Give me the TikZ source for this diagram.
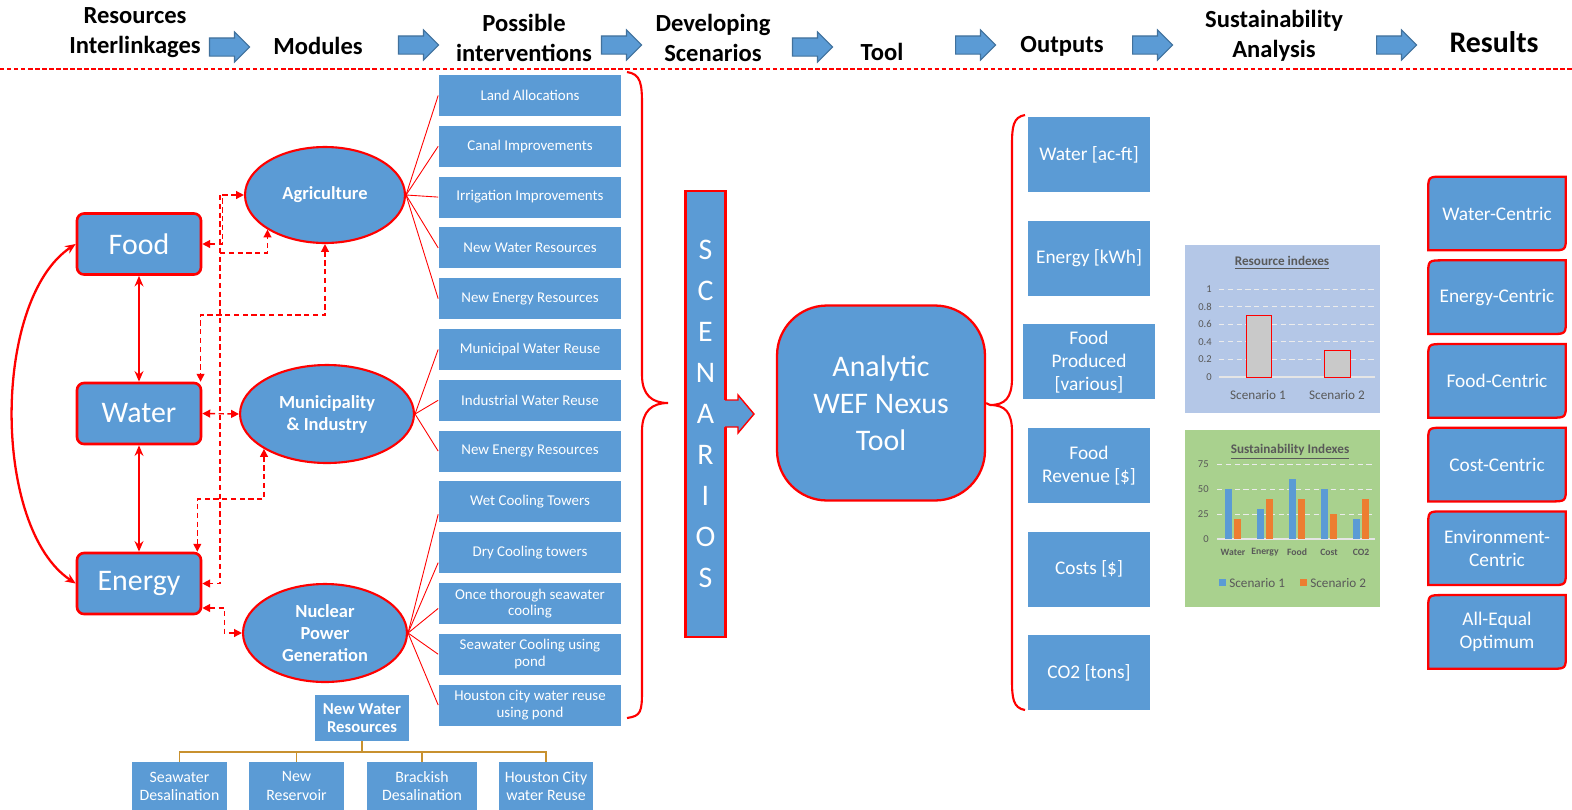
\documentclass[tikz,border=0pt]{standalone}
\usepackage{fontspec}
\setmainfont{Carlito}
\usetikzlibrary{arrows.meta, positioning, shapes.geometric, shapes.arrows, backgrounds}

\definecolor{wefblue}{HTML}{5B9BD5}
\definecolor{wefred}{HTML}{FF0000}
\definecolor{arrowedge}{HTML}{41719C}
\definecolor{treegold}{HTML}{C8912F}
\definecolor{resbg}{HTML}{B4C7E7}
\definecolor{susbg}{HTML}{A9D18E}
\definecolor{chtext}{HTML}{595959}
\definecolor{barorange}{HTML}{ED7D31}
\definecolor{bargrey}{HTML}{C9C9C9}

\begin{document}
\begin{tikzpicture}[x=0.02cm, y=-0.02cm, >=Stealth,
    head/.style={font=\fontsize{14}{17}\selectfont\bfseries, align=center, inner sep=0pt},
    harrow/.style={single arrow, fill=wefblue, draw=arrowedge, line width=0.6pt, minimum height=0.8cm, minimum width=0.58cm, single arrow head extend=0.12cm, inner xsep=0pt, inner ysep=0.17cm},
    res/.style={rectangle, rounded corners=0.14cm, fill=wefblue, draw=wefred, line width=1.5pt, text=white, minimum width=2.48cm, minimum height=1.22cm, font=\fontsize{17}{20}\selectfont},
    module/.style={ellipse, fill=wefblue, draw=wefred, line width=1.2pt, text=white, inner sep=0pt, align=center, font=\fontsize{10.5}{12.5}\selectfont\bfseries},
    option/.style={rectangle, fill=wefblue, text=white, minimum width=3.66cm, minimum height=0.82cm, inner sep=1pt, align=center, font=\fontsize{8.5}{9.5}\selectfont},
    link/.style={wefred, line width=0.5pt},
    bond/.style={wefred, line width=1.3pt, >={Stealth[length=6pt, width=5pt]}},
    dashlink/.style={wefred, line width=0.8pt, dash pattern=on 3pt off 2pt, >={Triangle[length=4.5pt, width=4.5pt]}},
    brace/.style={wefred, line width=1.2pt},
    scenbar/.style={rectangle, fill=wefblue, draw=wefred, line width=1.2pt, text=white, minimum width=0.8cm, minimum height=8.92cm, inner sep=0pt, align=center, font=\fontsize{17}{23.3}\selectfont},
    tool/.style={rectangle, rounded corners=1cm, fill=wefblue, draw=wefred, line width=1.3pt, text=white, minimum width=4.16cm, minimum height=3.9cm, align=center, font=\fontsize{17}{21}\selectfont},
    outbox/.style={rectangle, fill=wefblue, text=white, minimum width=2.44cm, minimum height=1.5cm, inner sep=1pt, align=center, font=\fontsize{11}{13}\selectfont},
    resbox/.style={rectangle, text=white, minimum width=2.74cm, minimum height=1.46cm, inner sep=1pt, align=center, font=\fontsize{11}{13}\selectfont},
    resframe/.style={fill=wefblue, draw=wefred, line width=1.3pt},
    topic/.style={rectangle, fill=wefblue, text=white, minimum width=1.88cm, minimum height=0.92cm, inner sep=1pt, align=center, font=\fontsize{9.5}{10.3}\selectfont\bfseries},
    leaf/.style={rectangle, fill=wefblue, text=white, minimum width=1.9cm, minimum height=0.96cm, inner sep=1pt, align=center, font=\fontsize{9}{10.3}\selectfont},
    treeline/.style={treegold, line width=1pt},
    chtitle/.style={text=chtext, inner sep=0pt, font=\fontsize{7.5}{9}\selectfont\bfseries},
    chlabel/.style={text=chtext, inner sep=0pt, font=\fontsize{7.5}{9}\selectfont},
    chaxis/.style={text=chtext, inner sep=0pt, font=\fontsize{6}{7}\selectfont},
    chcat/.style={text=chtext, inner sep=0pt, font=\fontsize{5.5}{7}\selectfont\bfseries},
    grid/.style={white!85!gray, line width=0.5pt, dash pattern=on 3pt off 2pt},
    chbase/.style={white!80!gray, line width=0.6pt}]

    \useasboundingbox (0,0) rectangle (1572,809);

    % header
    \node[head] (hres) at (135,33) {Resources\\Interlinkages};
    \node[head] (hmod) at (318,46) {Modules};
    \node[head] (hposs) at (524,38) {Possible\\interventions};
    \node[head] (hdev) at (713,38) {Developing\\Scenarios};
    \node[head] (htool) at (882,52) {Tool};
    \node[head] (hout) at (1062,46) {Outputs};
    \node[head] (hsus) at (1274,36) {Sustainability\\Analysis};
    \node[head, font=\fontsize{17}{20}\selectfont\bfseries] (hresult) at (1494,42) {Results};

    \node[harrow] (ha1) at (225,47) {};
    \node[harrow] (ha2) at (414,45) {};
    \node[harrow] (ha3) at (617,45) {};
    \node[harrow] (ha4) at (808,47) {};
    \node[harrow] (ha5) at (971,45) {};
    \node[harrow] (ha6) at (1148,45) {};
    \node[harrow] (ha7) at (1392,45) {};

    \draw[wefred, line width=0.6pt, dash pattern=on 2.5pt off 1.5pt] (0,69) -- (1572,69);

    % resources
    \node[res] (food) at (139,244) {Food};
    \node[res] (water) at (139,413.5) {Water};
    \node[res] (energy) at (139,583.5) {Energy};

    \draw[bond, <->] (food.south) -- (water.north);
    \draw[bond, <->] (water.south) -- (energy.north);
    \draw[bond, <->] (food.west) .. controls (-8,300) and (-8,528) .. (energy.west);

    % modules
    \node[module, minimum width=3.2cm, minimum height=1.92cm] (agri) at (325,195) {Agriculture};
    \node[module, minimum width=3.48cm, minimum height=1.96cm] (muni) at (327,414) {Municipality\\\& Industry};
    \node[module, minimum width=3.28cm, minimum height=1.96cm] (nuc) at (325,633) {Nuclear\\Power\\Generation};

    \coordinate (jfood) at (220,253);
    \coordinate (jtop) at (220,195);
    \draw[dashlink, <->] (food.east) -- ++(20,0) |- (agri.west);
    \draw[dashlink, ->] (jfood) -| (agri.211);
    \draw[dashlink, ->] (jtop) |- (energy.east);
    \draw[dashlink, <->] (agri.south) -- ++(0,71) -| ([xshift=-1pt]water.north east);
    \draw[dashlink, <->] (water.east) -- (muni.west);
    \draw[dashlink, <->] (muni.209) -- ++(0,50) -| ([xshift=-0.1cm]energy.north east);
    \draw[dashlink, <->] ([yshift=-0.49cm]energy.east) -- ++(22,0) |- (nuc.west);

    % interventions
    \node[option] (iv1) at (530,95.5) {Land Allocations};
    \node[option, below=0.182cm of iv1] (iv2) {Canal Improvements};
    \node[option, below=0.182cm of iv2] (iv3) {Irrigation Improvements};
    \node[option, below=0.182cm of iv3] (iv4) {New Water Resources};
    \node[option, below=0.182cm of iv4] (iv5) {New Energy Resources};
    \node[option, below=0.182cm of iv5] (iv6) {Municipal Water Reuse};
    \node[option, below=0.182cm of iv6] (iv7) {Industrial Water Reuse};
    \node[option, below=0.182cm of iv7] (iv8) {New Energy Resources};
    \node[option, below=0.182cm of iv8] (iv9) {Wet Cooling Towers};
    \node[option, below=0.182cm of iv9] (iv10) {Dry Cooling towers};
    \node[option, below=0.182cm of iv10] (iv11) {Once thorough seawater\\cooling};
    \node[option, below=0.182cm of iv11] (iv12) {Seawater Cooling using\\pond};
    \node[option, below=0.182cm of iv12] (iv13) {Houston city water reuse\\using pond};

    \draw[link] (agri.east) -- (iv1.west);
    \draw[link] (agri.east) -- (iv2.west);
    \draw[link] (agri.east) -- (iv3.west);
    \draw[link] (agri.east) -- (iv4.west);
    \draw[link] (agri.east) -- (iv5.west);
    \draw[link] (muni.east) -- (iv6.west);
    \draw[link] (muni.east) -- (iv7.west);
    \draw[link] (muni.east) -- (iv8.west);
    \draw[link] (nuc.east) -- ([yshift=-0.25cm]iv9.west);
    \draw[link] (nuc.east) -- ([yshift=-0.2cm]iv10.west);
    \draw[link] (nuc.east) -- ([yshift=-0.1cm]iv11.west);
    \draw[link] (nuc.east) -- (iv12.west);
    \draw[link] (nuc.east) -- (iv13.west);

    \draw[brace] (627,72) .. controls (641,74) and (642,84) .. (642,105) -- (642,375)
        .. controls (642,395) and (652,403) .. (668,403)
        .. controls (652,403) and (642,411) .. (642,431) -- (642,690)
        .. controls (642,712) and (641,716) .. (627,718);

    % new water resources
    \node[topic] (nwr) at (362,718) {New Water\\Resources};
    \node[leaf] (sdes) at (179.5,786) {Seawater\\Desalination};
    \node[leaf] (nres) at (296.5,786) {New\\Reservoir};
    \node[leaf, minimum width=2.2cm] (bdes) at (422,786) {Brackish\\Desalination};
    \node[leaf, minimum width=1.88cm] (hreuse) at (546,786) {Houston City\\water Reuse};
    \draw[treeline] (nwr.south) -- ++(0,11) -| (sdes.north);
    \draw[treeline] (nwr.south) -- ++(0,11) -| (nres.north);
    \draw[treeline] (nwr.south) -- ++(0,11) -| (bdes.north);
    \draw[treeline] (nwr.south) -- ++(0,11) -| (hreuse.north);

    % scenarios and tool
    \node[scenbar] (scen) at (705.5,414) {S\\C\\E\\N\\A\\R\\I\\O\\S};
    \fill[wefblue] (723,400) -- (738,400) -- (738,395) -- (754,414) -- (738,433) -- (738,427) -- (723,427) -- cycle;
    \draw[wefred, line width=0.8pt] (725,400) -- (738,400) -- (738,395) -- (754,414) -- (738,433) -- (738,427) -- (725,427);

    \node[tool] (tool) at (881,403) {Analytic\\WEF Nexus\\Tool};
    \coordinate (obrace) at (990,405);
    \draw[brace] (tool.east) -- (obrace);
    \draw[brace] (1025,115) .. controls (1013,117) and (1012,127) .. (1012,145) -- (1012,378)
        .. controls (1012,398) and (1005,405) .. (obrace)
        .. controls (1005,405) and (1012,412) .. (1012,432) -- (1012,680)
        .. controls (1012,698) and (1013,708) .. (1025,710);

    % outputs
    \node[outbox] (owat) at (1089,154.5) {Water [ac-ft]};
    \node[outbox, below=0.56cm of owat] (oeng) {Energy [kWh]};
    \node[outbox, minimum width=2.64cm, below=0.56cm of oeng] (ofood) {Food\\Produced\\{[various]}};
    \node[outbox, below=0.56cm of ofood] (orev) {Food\\Revenue [\$]};
    \node[outbox, below=0.56cm of orev] (ocost) {Costs [\$]};
    \node[outbox, below=0.56cm of ocost] (oco) {CO2 [tons]};

    % resource indexes chart
    \fill[resbg] (1185,245) rectangle (1380,413);
    \node[chtitle] (rtitle) at (1282,263) {\underline{Resource indexes}};
    \foreach \v in {1,...,5}
        \draw[grid] (1219,{377-17.6*\v}) -- (1375,{377-17.6*\v});
    \draw[chbase] (1219,377) -- (1375,377);
    \foreach \v/\t in {0/0, 1/0.2, 2/0.4, 3/0.6, 4/0.8, 5/1}
        \node[chaxis, anchor=east] (ry\v) at (1212,{377-17.6*\v}) {\t};
    \draw[fill=bargrey, draw=wefred, line width=0.5pt] (1246,377) rectangle (1271,315.4);
    \draw[fill=bargrey, draw=wefred, line width=0.5pt] (1324,377) rectangle (1350,350.6);
    \node[chlabel] (rs1) at (1258,395) {Scenario 1};
    \node[chlabel] (rs2) at (1337,395) {Scenario 2};

    % sustainability indexes chart
    \fill[susbg] (1185,430) rectangle (1380,607);
    \node[chtitle] (stitle) at (1290,452) {\underline{Sustainability Indexes}};
    \foreach \v in {1,2,3}
        \draw[grid] (1217,{539-25*\v}) -- (1375,{539-25*\v});
    \draw[chbase] (1217,539) -- (1375,539);
    \foreach \v/\t in {0/0, 1/25, 2/50, 3/75}
        \node[chaxis, anchor=east] (sy\v) at (1209,{539-25*\v}) {\t};
    \foreach \c/\a/\b/\n [count=\k] in {1233/50/20/Water, 1265/30/40/Energy, 1297/60/40/Food, 1329/50/25/Cost, 1361/20/40/CO2} {
        \fill[wefblue] (\c-8,539) rectangle (\c-1,539-\a);
        \fill[barorange] (\c+1,539) rectangle (\c+8,539-\b);
        \node[chcat] (cat\k) at (\c,552) {\n};
    }
    \fill[wefblue] (1219,579) rectangle (1226,586);
    \node[chlabel, anchor=west] (leg1) at (1229,583) {Scenario 1};
    \fill[barorange] (1300,579) rectangle (1307,586);
    \node[chlabel, anchor=west] (leg2) at (1310,583) {Scenario 2};

    % results
    \node[resbox] (rwat) at (1497,213.5) {Water-Centric};
    \node[resbox, below=0.2cm of rwat] (reng) {Energy-Centric};
    \node[resbox, below=0.2cm of reng] (rfood) {Food-Centric};
    \node[resbox, below=0.2cm of rfood] (rcost) {Cost-Centric};
    \node[resbox, below=0.2cm of rcost] (renv) {Environment-\\Centric};
    \node[resbox, below=0.2cm of renv] (rall) {All-Equal\\Optimum};
    \begin{scope}[on background layer]
        \foreach \rb in {rwat, reng, rfood, rcost, renv, rall}
            \draw[resframe] ([xshift=0.3cm]\rb.north west) -- (\rb.north east)
                -- ([yshift=0.3cm]\rb.south east) .. controls (\rb.south east) .. ([xshift=-0.3cm]\rb.south east)
                -- (\rb.south west) -- ([yshift=-0.3cm]\rb.north west)
                .. controls (\rb.north west) .. ([xshift=0.3cm]\rb.north west) -- cycle;
    \end{scope}
\end{tikzpicture}
\end{document}
